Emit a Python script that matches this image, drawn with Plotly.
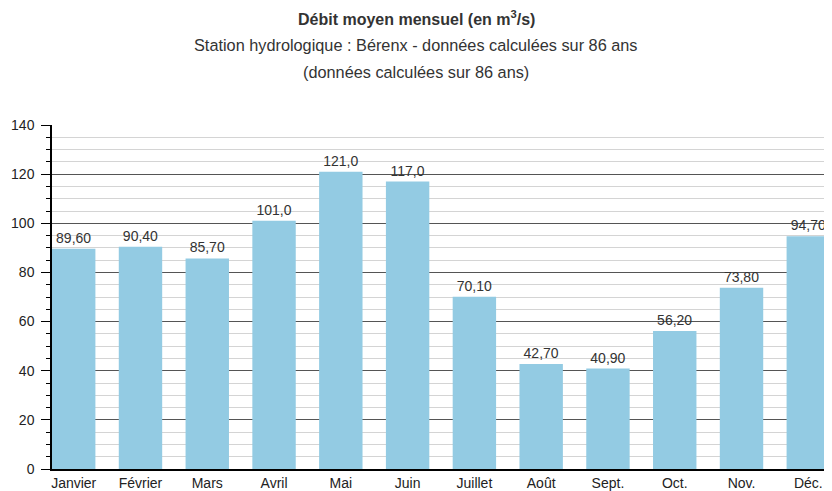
import plotly.graph_objects as go

months = ["Janvier", "Février", "Mars", "Avril", "Mai", "Juin", "Juillet",
          "Août", "Sept.", "Oct.", "Nov.", "Déc."]
debit = [89.60, 90.40, 85.70, 101.0, 121.0, 117.0, 70.10, 42.70, 40.90, 56.20, 73.80, 94.70]
labels = ["89,60", "90,40", "85,70", "101,0", "121,0", "117,0", "70,10",
          "42,70", "40,90", "56,20", "73,80", "94,70"]
y_ticks = [0, 20, 40, 60, 80, 100, 120, 140]

FONT = "Liberation Sans, Arial, sans-serif"

# the page body has an 8px margin, so figure coordinates are page coordinates minus 8
OFF = 8
W, Hfig = 832 - OFF, 491 - OFF
plot_top, plot_bottom = 125 - OFF, 469 - OFF
plot_left, plot_right = 52 - OFF, 830 - OFF
H = plot_bottom - plot_top

fig = go.Figure(go.Bar(
    x=months, y=debit, text=labels, textposition="outside",
    textfont=dict(family=FONT, size=14, color="#333333"),
    marker=dict(color="#93CBE3", line=dict(width=0)),
    width=0.65, cliponaxis=False,
))

def ypaper(px):
    return 1 + (plot_top - (px - OFF)) / H

xc = (416 - OFF - plot_left) / (plot_right - plot_left)

fig.add_annotation(text="<b>Débit moyen mensuel (en m<sup>3</sup>/s)</b>", xref="paper", yref="paper",
                   x=xc, y=ypaper(18), showarrow=False, yanchor="middle",
                   font=dict(family=FONT, size=16, color="#333333"))
fig.add_annotation(text="Station hydrologique : Bérenx - données calculées sur 86 ans", xref="paper", yref="paper",
                   x=xc, y=ypaper(45), showarrow=False, yanchor="middle",
                   font=dict(family=FONT, size=16.3, color="#333333"))
fig.add_annotation(text="(données calculées sur 86 ans)", xref="paper", yref="paper",
                   x=xc, y=ypaper(72), showarrow=False, yanchor="middle",
                   font=dict(family=FONT, size=16.3, color="#333333"))

fig.update_layout(
    width=W, height=Hfig,
    margin=dict(l=plot_left, r=W - plot_right, t=plot_top, b=Hfig - plot_bottom, autoexpand=False),
    paper_bgcolor="white", plot_bgcolor="white",
    showlegend=False,
    font=dict(family=FONT, size=14, color="#222222"),
    xaxis=dict(range=[-0.325, 11.325], showgrid=False, ticks="",
               showline=True, linecolor="black", linewidth=1.5, automargin=False,
               tickfont=dict(family=FONT, size=14, color="#222222")),
    yaxis=dict(range=[0, 140], tickvals=y_ticks, showgrid=True, gridcolor="#555555", gridwidth=1,
               zeroline=False, showline=True, linecolor="black", linewidth=1.5, automargin=False,
               ticks="outside", ticklen=9, tickcolor="black", tickwidth=1,
               ticklabelstandoff=4,
               tickfont=dict(family=FONT, size=14, color="#222222"),
               minor=dict(dtick=5, showgrid=True, gridcolor="#d4d4d4", gridwidth=1,
                          ticks="outside", ticklen=4, tickcolor="black")),
    bargap=0.35,
)

fig.write_html("out.html")
